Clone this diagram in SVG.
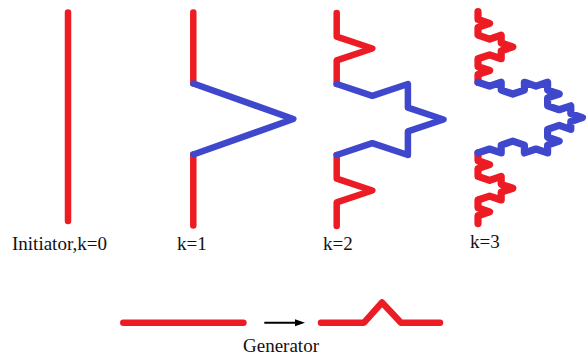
<svg xmlns="http://www.w3.org/2000/svg" width="586" height="358" viewBox="0 0 586 358">
<defs>
<style>
.r{fill:none;stroke:#ED1C24;stroke-width:6.5;stroke-linecap:round;stroke-linejoin:round}
.b{fill:none;stroke:#3F48CC;stroke-width:6.5;stroke-linecap:round;stroke-linejoin:round}
.t{stroke-width:7.2}
.lbl{font-family:"Liberation Serif","Times New Roman",serif;font-size:19px;fill:#111}
</style>
<marker id="ah" markerWidth="10" markerHeight="8" refX="4" refY="3.5" orient="auto" markerUnits="userSpaceOnUse"><path d="M0,0 L10,3.5 L0,7 z" fill="#000"/></marker>
</defs>
<rect width="586" height="358" fill="#fff"/>
<g id="k0">
<path class="r" d="M68,12.5 V221"/>
<text class="lbl" x="12" y="250">Initiator,k=0</text>
</g>
<g id="k1">
<path class="r" d="M193.3,12.5 v71 M193.3,154.5 v71"/>
<path class="b" d="M193.3,83.5 l100,35.5 -100,35.5"/>
<text class="lbl" x="177" y="250">k=1</text>
</g>
<g id="k2">
<path class="r" d="M336.7,13 l0,23.67 35.6,11.83 -35.6,11.83 0,23.67 M336.7,155 l0,23.67 35.6,11.83 -35.6,11.83 0,23.67"/>
<path class="b" d="M336.7,84 l35.6,11.83 35.6,-11.83 0,23.67 35.6,11.83 -35.6,11.83 0,23.67 -35.6,-11.83 -35.6,11.83"/>
<text class="lbl" x="323" y="250">k=2</text>
</g>
<g id="k3">
<path class="r t" d="M478,11.6 l0,7.85 11.6,3.93 -11.6,3.93 0,7.85 11.6,3.93 11.6,-3.93 0,7.85 11.6,3.93 -11.6,3.93 0,7.85 -11.6,-3.93 -11.6,3.93 0,7.85 11.6,3.93 -11.6,3.93 0,7.85 M478,152.9 l0,7.85 11.6,3.93 -11.6,3.93 0,7.85 11.6,3.93 11.6,-3.93 0,7.85 11.6,3.93 -11.6,3.93 0,7.85 -11.6,-3.93 -11.6,3.93 0,7.85 11.6,3.93 -11.6,3.93 0,7.85"/>
<path class="b t" d="M478,82.25 l11.6,3.93 11.6,-3.93 0,7.85 11.6,3.93 11.6,-3.93 0,-7.85 11.6,3.93 11.6,-3.93 0,7.85 11.6,3.93 -11.6,3.93 0,7.85 11.6,3.93 11.6,-3.93 0,7.85 11.6,3.93 -11.6,3.93 0,7.85 -11.6,-3.93 -11.6,3.93 0,7.85 11.6,3.93 -11.6,3.93 0,7.85 -11.6,-3.93 -11.6,3.93 0,-7.85 -11.6,-3.93 -11.6,3.93 0,7.85 -11.6,-3.93 -11.6,3.93"/>
<text class="lbl" x="470" y="248">k=3</text>
</g>
<g id="initiator-segment">
<path class="r" d="M123.3,322.7 H243.4"/>
</g>
<g id="generator">
<path class="r" d="M321,322.7 H364 L382,302.5 L401,322.7 H440"/>
<text class="lbl" x="243" y="352">Generator</text>
</g>
<g id="connectors">
<line x1="264.3" y1="322.7" x2="299" y2="322.7" stroke="#000" stroke-width="2" marker-end="url(#ah)"/>
</g>
</svg>
